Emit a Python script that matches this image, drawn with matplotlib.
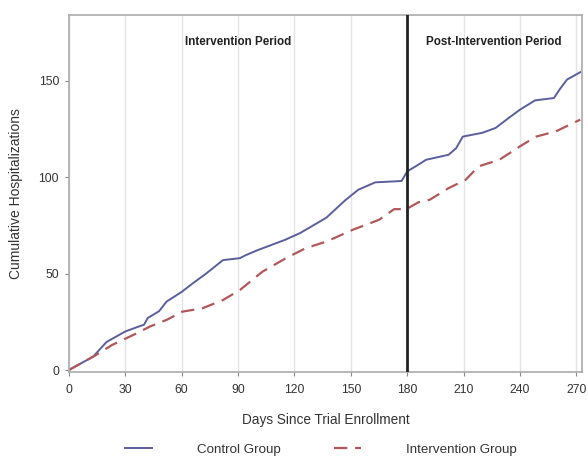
import matplotlib
matplotlib.use("Agg")
import matplotlib.pyplot as plt

plt.rcParams['font.family'] = ['Liberation Sans', 'DejaVu Sans']

# Data
control_days = [0, 13, 20, 30, 37, 40, 42, 48, 52, 60, 66, 73, 82, 91, 94, 100, 115, 123,
                137, 147, 154, 163, 177, 180, 186, 190, 202, 206, 209.5, 220, 227, 234,
                240, 248, 258, 261, 265, 272]
control_vals = [0, 7, 14.5, 20, 22.5, 23.5, 27, 30.5, 35.5, 40.5, 45, 50, 57, 58, 59.5, 62,
                67.5, 71, 79, 88, 93.5, 97.3, 98, 103, 106.5, 109, 111.6, 115, 121, 123,
                125.5, 130.7, 135, 139.8, 141, 145.4, 150.6, 154.4]

intervention_days = [0, 14.5, 23, 36, 43, 52, 60.5, 71, 82, 91, 103, 115.5, 126, 137, 151,
                     165, 173, 179.5, 186, 192, 202, 211, 218, 229, 240, 248.5, 259, 272]
intervention_vals = [0, 7.8, 13, 19, 22.5, 26, 30.3, 32, 36.3, 41.5, 51, 58, 63.2, 66.6,
                     72.7, 77.9, 83.4, 83.4, 87, 88.3, 94.3, 98.6, 105.6, 109, 116, 121,
                     123.7, 129.8]

x_ticks = [0, 30, 60, 90, 120, 150, 180, 210, 240, 270]
y_ticks = [0, 50, 100, 150]
period_split = 180
period_labels = ["Intervention Period", "Post-Intervention Period"]
period_label_x = [90, 226]
series_names = ["Control Group", "Intervention Group"]

fig = plt.figure(figsize=(5.88, 4.57), dpi=100)
ax = fig.add_axes([0.117, 0.186, 0.873, 0.781])

for x in x_ticks:
    ax.axvline(x, color='#e4e4e4', lw=1.0, zorder=0)

l1, = ax.plot(control_days, control_vals, color='#5b5e9c', lw=1.4, label=series_names[0])
l2, = ax.plot(intervention_days, intervention_vals, color='#b0585a', lw=1.6,
              dashes=(6, 3.5), label=series_names[1])
ax.axvline(period_split, color='#222222', lw=2.0, zorder=3)

ax.set_xlim(0, 273)
ax.set_ylim(-1, 184)
ax.set_xticks(x_ticks)
ax.set_yticks(y_ticks)
ax.tick_params(axis='both', labelsize=8.8, colors='#888888', labelcolor='#333333',
               length=3, width=0.8)
ax.tick_params(axis='x', pad=6)
ax.tick_params(axis='y', pad=4)
for s in ax.spines.values():
    s.set_color('#aaaaaa')
    s.set_linewidth(1.2)

for lab, xx in zip(period_labels, period_label_x):
    ax.text(xx, 170, lab, ha='center', va='center', fontsize=8.4, fontweight='bold',
            color='#222222')

ax.set_xlabel("Days Since Trial Enrollment", fontsize=9.8, color='#333333', labelpad=12)
ax.set_ylabel("Cumulative Hospitalizations", fontsize=10, color='#333333', labelpad=11)

fig.legend(handles=[l1, l2], loc='center', bbox_to_anchor=(0.546, 0.016),
           ncol=2, frameon=False, fontsize=9.6, handlelength=2.0, handletextpad=3.4,
           columnspacing=4.0, labelcolor='#333333')

fig.savefig("out.png", dpi=100)
